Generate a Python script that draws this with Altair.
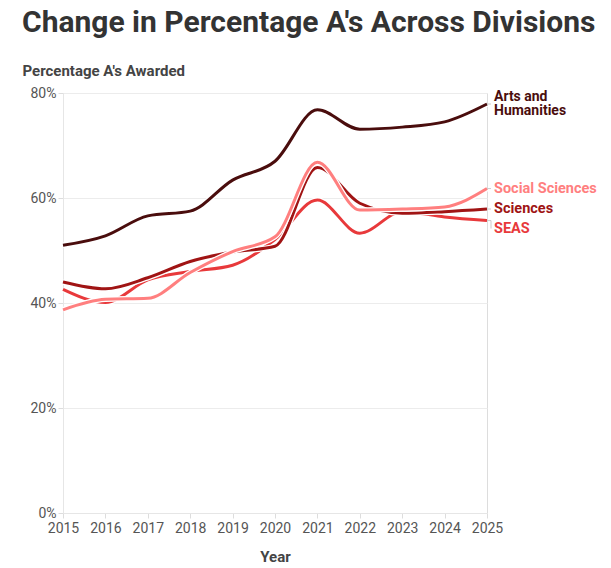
import altair as alt
import pandas as pd

years = [2015, 2016, 2017, 2018, 2019, 2020, 2021, 2022, 2023, 2024, 2025]
arts = [51.0, 52.8, 56.6, 57.5, 63.4, 67.0, 76.8, 73.1, 73.5, 74.5, 77.9]
sciences = [44.0, 42.7, 44.8, 47.9, 49.7, 50.8, 65.8, 59.0, 57.1, 57.4, 57.9]
seas = [42.6, 40.1, 44.4, 46.0, 47.2, 52.1, 59.6, 53.3, 57.4, 56.4, 55.7]
social = [38.7, 40.7, 40.9, 45.8, 49.8, 52.6, 66.8, 57.7, 57.9, 58.3, 61.8]

series_names = ["Arts and Humanities", "SEAS", "Sciences", "Social Sciences"]
series_values = [arts, seas, sciences, social]
series_colors = ["#4a0d0d", "#e8393b", "#a01414", "#ff7f7f"]
label_texts = ["Arts and\nHumanities", "SEAS", "Sciences", "Social Sciences"]
label_dy = [-7, 8, 0, 0]

FONT = "Roboto"

x_enc = alt.X("year:Q", title="Year",
              scale=alt.Scale(domain=[2015, 2025], nice=False),
              axis=alt.Axis(values=years, format="d", grid=False,
                            labelOverlap=False, labelFlush=False,
                            labelFontSize=14, labelColor="#555", labelFont=FONT,
                            labelPadding=3, tickColor="#ddd", tickSize=5,
                            domainColor="#e6e6e6",
                            titleFont=FONT, titleFontSize=15, titleColor="#444",
                            titleFontWeight="bold", titlePadding=14))
y_enc = alt.Y("value:Q", title="Percentage A's Awarded",
              scale=alt.Scale(domain=[0, 80], nice=False),
              axis=alt.Axis(values=[0, 20, 40, 60, 80],
                            labelExpr="datum.value + '%'",
                            labelFontSize=14, labelColor="#555", labelFont=FONT,
                            gridColor="#ececec", tickColor="#ddd", tickSize=5,
                            domainColor="#e6e6e6",
                            titleFont=FONT, titleFontSize=15, titleColor="#444",
                            titleFontWeight="bold", titleAngle=0,
                            titleAlign="left", titleBaseline="middle",
                            titleX=-41, titleY=-23))

layers = []
for i, (name, vals, col) in enumerate(zip(series_names, series_values, series_colors)):
    df = pd.DataFrame({"year": years, "value": vals, "series": name})
    base = alt.Chart(df)
    halo = base.mark_line(interpolate="monotone", color="white", strokeWidth=5.5).encode(
        x=x_enc if i == 0 else alt.X("year:Q"), y=y_enc if i == 0 else alt.Y("value:Q"))
    line = base.mark_line(interpolate="monotone", color=col, strokeWidth=3).encode(
        x=alt.X("year:Q"), y=alt.Y("value:Q"))
    layers += [halo, line]

    end_df = pd.DataFrame({"year": [years[-1]], "value": [vals[-1]], "label": [label_texts[i]]})
    dy = label_dy[i]
    leader = alt.Chart(end_df).mark_rule(color="#cccccc", strokeWidth=1).encode(
        x=alt.X("year:Q"), x2=alt.value(428), y=alt.Y("value:Q"))
    layers.append(leader)
    if name == "SEAS":
        vleader = alt.Chart(end_df).mark_rule(color="#cccccc", strokeWidth=1, xOffset=4,
                                              y2Offset=dy).encode(
            x=alt.X("year:Q"), y=alt.Y("value:Q"), y2=alt.Y2("value:Q"))
        layers.append(vleader)
    fs = 14 if "\n" in label_texts[i] else 14.5
    text = alt.Chart(end_df).mark_text(align="left", baseline="middle", dx=7, dy=dy,
                                       font=FONT, fontSize=fs, fontWeight="bold",
                                       color=col, lineBreak="\n", lineHeight=14).encode(
        x=alt.X("year:Q"), y=alt.Y("value:Q"), text="label:N")
    layers.append(text)

chart = alt.layer(*layers).properties(
    width=424, height=420,
    autosize=alt.AutoSizeParams(type="none"),
    padding={"left": 63, "top": 93, "right": 124, "bottom": 55},
    title=alt.TitleParams("Change in Percentage A's Across Divisions",
                          anchor="start", frame="group", dx=-41,
                          font=FONT, fontSize=30, fontWeight="bold",
                          color="#333", offset=25),
).configure_view(stroke=None).configure(background="white")

chart.save("out.html", embed_options={"renderer": "svg", "actions": False})
